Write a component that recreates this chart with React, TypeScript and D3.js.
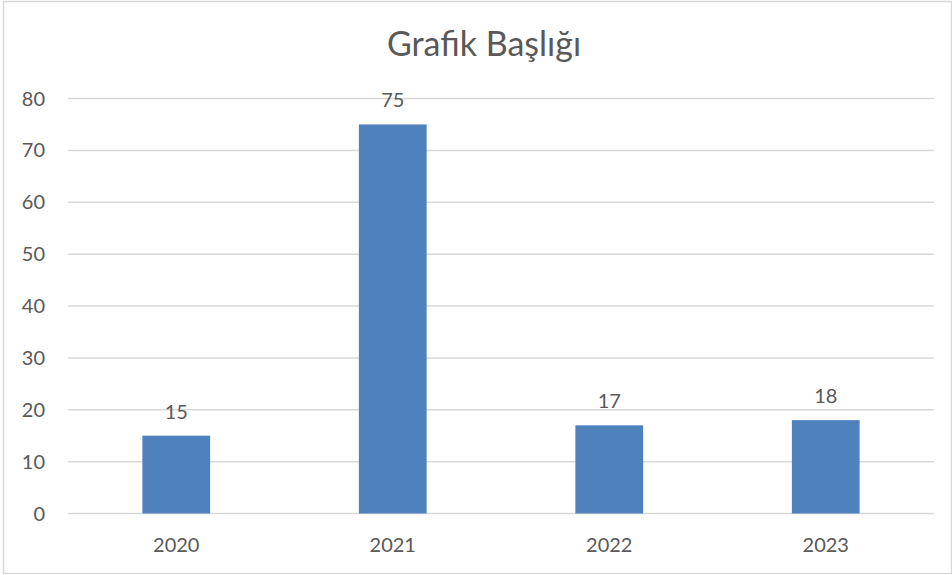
import React from "react";
import * as d3 from "d3";

const categories = ["2020", "2021", "2022", "2023"];
const values = [15, 75, 17, 18];
const yTicks = [0, 10, 20, 30, 40, 50, 60, 70, 80];
const title = "Grafik Başlığı";

const W = 952;
const H = 575;
const FONT = "Lato, 'Noto Sans', sans-serif";
const TEXT = "#595959";

export default function App() {
  const x = d3
    .scaleBand<string>()
    .domain(categories)
    .range([68, 934])
    .paddingInner(0.687)
    .paddingOuter(0.3435);
  const y = d3.scaleLinear().domain([0, 80]).range([513.5, 98.5]);

  return (
    <svg
      width={W}
      height={H}
      style={{ position: "absolute", left: 0, top: 0, background: "#fff" }}
    >
      <rect x={3.5} y={1.5} width={W - 4} height={H - 3} fill="#fff" stroke="#d9d9d9" strokeWidth={1.5} />
      <text
        x={484}
        y={56}
        textAnchor="middle"
        fontFamily={FONT}
        fontSize={34}
        fill={TEXT}
      >
        {title}
      </text>
      {yTicks.map((t) => (
        <g key={t}>
          <line x1={68} x2={934} y1={y(t)} y2={y(t)} stroke="#d9d9d9" strokeWidth={1.5} />
          <text
            x={45}
            y={y(t)}
            dy="0.35em"
            textAnchor="end"
            fontFamily={FONT}
            fontSize={20}
            fill={TEXT}
          >
            {t}
          </text>
        </g>
      ))}
      {categories.map((c, i) => {
        const bx = x(c)!;
        const bw = x.bandwidth();
        const top = y(values[i]);
        return (
          <g key={c}>
            <rect x={bx} y={top} width={bw} height={y(0) - top} fill="#4f81bd" />
            <text
              x={bx + bw / 2}
              y={top - 17}
              textAnchor="middle"
              fontFamily={FONT}
              fontSize={20}
              fill={TEXT}
            >
              {values[i]}
            </text>
            <text
              x={bx + bw / 2}
              y={552}
              textAnchor="middle"
              fontFamily={FONT}
              fontSize={20}
              fill={TEXT}
            >
              {c}
            </text>
          </g>
        );
      })}
    </svg>
  );
}
